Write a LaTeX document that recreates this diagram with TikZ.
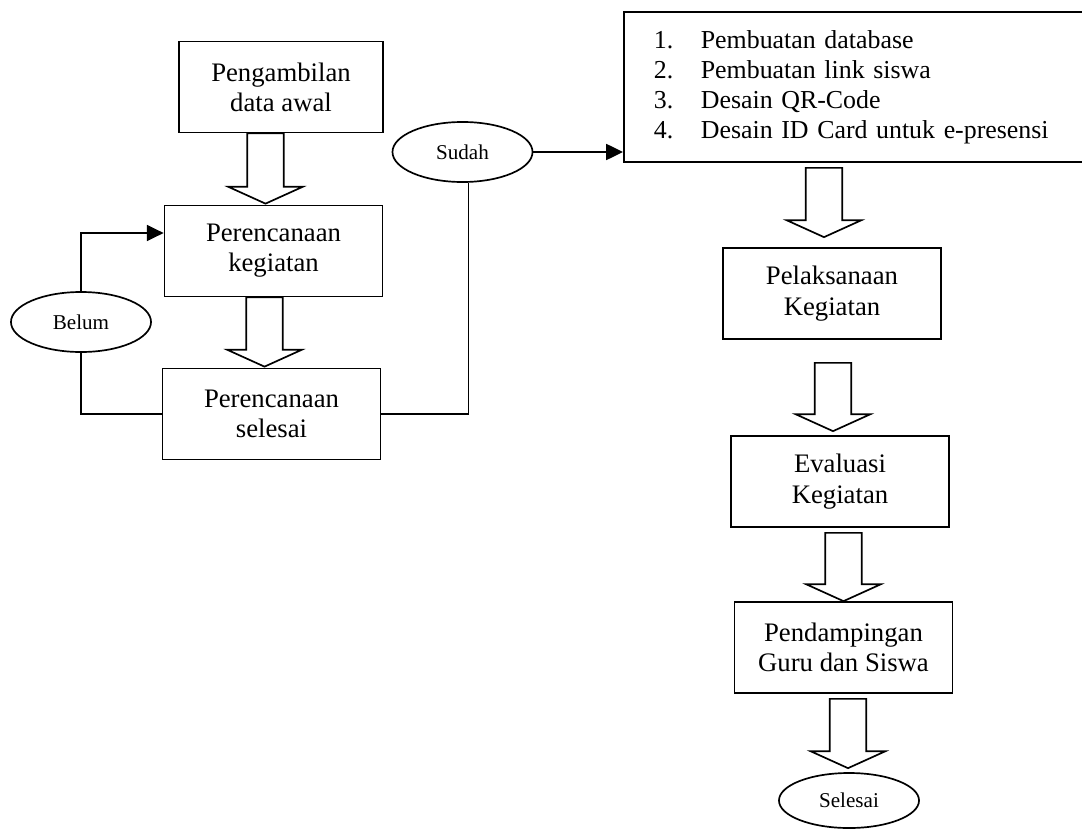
\documentclass[tikz,border=0pt]{standalone}
\usepackage{fontspec}
\setmainfont{Liberation Serif}
\usetikzlibrary{arrows.meta,
                calc,
                positioning,
                shapes.geometric}

\tikzset{
    stepbox/.style={draw, line width=1.2pt, align=center, inner sep=0pt,
        minimum width=5.45cm, minimum height=2.275cm,
        font=\fontsize{19}{21.5}\selectfont},
    answer/.style={draw, ellipse, line width=1.2pt, inner sep=0pt,
        minimum width=3.5cm, minimum height=1.5cm,
        font=\fontsize{15}{18}\selectfont},
    flowline/.style={line width=1.3pt},
    flowarrow/.style={line width=1.3pt, -{Triangle[length=0.42cm, width=0.4cm]}},
    blockarr/.style={draw, line width=1.2pt, fill=white, line join=miter}
}

% hollow block arrow: from, to, x shift of tip, gap at top, gap at tip
\newcommand{\blockarrow}[5]{%
    \draw[blockarr] let \p1=($(#2.north)+(#3,-#5)$), \p2=($(#1.south)+(0,#4)$) in
        (\x1-13pt,\y2) -- (\x1-13pt,\y1+12pt) -- (\x1-26.5pt,\y1+12pt) -- (\x1,\y1)
        -- (\x1+26.5pt,\y1+12pt) -- (\x1+13pt,\y1+12pt) -- (\x1+13pt,\y2) -- cycle;}

\begin{document}
\begin{tikzpicture}[x=0.025cm, y=-0.025cm]
    \useasboundingbox (0,0) rectangle (1082,828);
    \clip (0,0) rectangle (1082,828);

    % left column
    \node[stepbox, minimum width=5.1cm] (ambil) at (281,87) {Pengambilan\\data awal};
    \node[stepbox] (rencana) at (273.5,251) {Perencanaan\\kegiatan};
    \node[stepbox] (selesai) at (271.5,414) {Perencanaan\\selesai};

    \node[answer] (belum) at (81,322) {Belum};
    \node[answer] (sudah) at (462.5,152) {Sudah};

    % right column
    \node[draw, line width=1.2pt, anchor=west, align=left, text width=10.5cm,
          inner xsep=0.75cm, minimum height=3.75cm,
          font=\fontsize{18.4}{21.3}\selectfont] (buat) at (623,87)
        {\makebox[1.175cm][l]{1.}Pembuatan database\\
         \makebox[1.175cm][l]{2.}Pembuatan link siswa\\
         \makebox[1.175cm][l]{3.}Desain QR-Code\\
         \makebox[1.175cm][l]{4.}Desain ID Card untuk e-presensi};

    \node[stepbox] (laksana) at (832,293.5) {Pelaksanaan\\Kegiatan};
    \node[stepbox] (evaluasi) at (840,481.5) {Evaluasi\\Kegiatan};
    \node[stepbox] (damping) at (843.5,647.5) {Pendampingan\\Guru dan Siswa};
    \node[answer, minimum height=1.375cm] (akhir) at (849,800.5) {Selesai};

    \blockarrow{ambil}{rencana}{-8}{0}{1}
    \blockarrow{rencana}{selesai}{-7}{0}{1}
    \blockarrow{buat}{laksana}{-8}{5}{10}
    \blockarrow{laksana}{evaluasi}{-7}{23}{4}
    \blockarrow{evaluasi}{damping}{0}{5}{0}
    \blockarrow{damping}{akhir}{-1}{5}{4}

    % loop back and forward
    \draw[flowarrow] (belum.north) |- ($(rencana.west)+(0,-18)$);
    \draw[flowline] (belum.south) |- (selesai.west);
    \draw[flowline] (selesai.east) -| ($(sudah.south)+(6,0)$);
    \draw[flowarrow] (sudah.east) -- (sudah.east -| buat.west);
\end{tikzpicture}
\end{document}
